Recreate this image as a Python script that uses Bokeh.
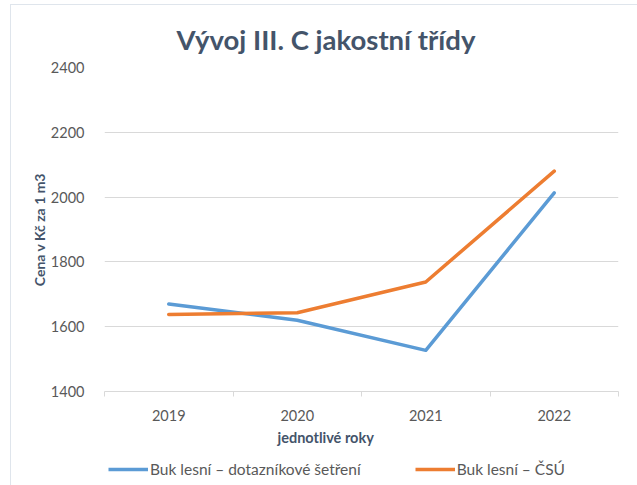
from bokeh.plotting import figure
from bokeh.layouts import column
from bokeh.models import Range1d, FixedTicker, Legend, LegendItem, Title
from bokeh.embed import file_html
from bokeh.resources import INLINE

years = [2019, 2020, 2021, 2022]
survey = [1670, 1620, 1527, 2013]
csu = [1638, 1643, 1738, 2080]
y_ticks = [1400, 1600, 1800, 2000, 2200, 2400]

title_text = "Vývoj III. C jakostní třídy"
y_label = "Cena v Kč za 1 m3"
x_label = "jednotlivé roky"
series_names = ["Buk lesní – dotazníkové šetření", "Buk lesní – ČSÚ"]
colors = ["#5b9bd5", "#ed7d31"]

FONT = "Lato"
GRID = "#d9d9d9"
TXT = "#595959"
DARK = "#44546a"
EDGE = "#dfe5ec"

p = figure(width=626, height=448, output_backend="svg", toolbar_location=None,
           x_range=Range1d(years[0] - 0.5, years[-1] + 0.5),
           y_range=Range1d(y_ticks[0], y_ticks[-1]),
           min_border_left=93, min_border_right=19, min_border_top=62, min_border_bottom=62)
p.outline_line_color = None
p.background_fill_color = "white"
p.border_fill_color = "white"

t = Title(text=title_text, align="left", offset=72, standoff=23,
          text_font=FONT, text_font_size="27.5px", text_font_style="bold", text_color=DARK)
p.add_layout(t, "above")

# axes
p.yaxis.ticker = FixedTicker(ticks=y_ticks)
p.yaxis.axis_line_color = None
p.yaxis.major_tick_line_color = None
p.yaxis.minor_tick_line_color = None
p.yaxis.major_label_standoff = 14
p.yaxis.major_label_text_font = FONT
p.yaxis.major_label_text_font_size = "14.5px"
p.yaxis.major_label_text_color = TXT
p.yaxis.axis_label = y_label
p.yaxis.axis_label_text_font = FONT
p.yaxis.axis_label_text_font_size = "14px"
p.yaxis.axis_label_text_font_style = "bold"
p.yaxis.axis_label_text_color = DARK
p.yaxis.axis_label_standoff = 0

bounds = [y - 0.5 for y in years] + [years[-1] + 0.5]
p.xaxis.ticker = FixedTicker(ticks=years, minor_ticks=bounds)
p.xaxis.axis_line_color = GRID
p.xaxis.major_tick_line_color = None
p.xaxis.major_tick_out = 0
p.xaxis.minor_tick_line_color = GRID
p.xaxis.minor_tick_out = 5
p.xaxis.minor_tick_in = 0
p.xaxis.major_label_standoff = 13
p.xaxis.major_label_text_font = FONT
p.xaxis.major_label_text_font_size = "14.5px"
p.xaxis.major_label_text_color = TXT

xt = Title(text=x_label, align="left", offset=173, standoff=6,
           text_font=FONT, text_font_size="14.5px", text_font_style="bold", text_color=DARK)
p.add_layout(xt, "below")

p.xgrid.grid_line_color = None
p.ygrid.ticker = FixedTicker(ticks=y_ticks)
p.ygrid.grid_line_color = GRID
p.ygrid.grid_line_width = 1

p.line(years, survey, line_color=colors[0], line_width=3.5, line_cap="round", line_join="round")
p.line(years, csu, line_color=colors[1], line_width=3.5, line_cap="round", line_join="round")

# legend strip below the chart (its frame is aligned with the chart's frame)
lg = figure(width=626, height=32, output_backend="svg", toolbar_location=None,
            x_range=Range1d(0, 1), y_range=Range1d(0, 1),
            min_border_left=93, min_border_right=19, min_border_top=0, min_border_bottom=0)
lg.axis.visible = False
lg.grid.visible = False
lg.outline_line_color = None
lg.background_fill_color = "white"
lg.border_fill_color = "white"
# key renderers: same series, outside the strip's visible range, only used for the legend samples
k1 = lg.line(years, survey, line_color=colors[0], line_width=3.5)
k2 = lg.line(years, csu, line_color=colors[1], line_width=3.5)
legend = Legend(items=[LegendItem(label=series_names[0], renderers=[k1]),
                       LegendItem(label=series_names[1], renderers=[k2])],
                orientation="horizontal", location=(4, 6),
                border_line_color=None, background_fill_alpha=0,
                padding=0, margin=0, spacing=54, label_standoff=2,
                glyph_width=40, glyph_height=20, label_height=20,
                label_text_font=FONT, label_text_font_size="15.5px", label_text_color=TXT)
lg.add_layout(legend, "center")

layout = column(p, lg, spacing=0, margin=(4, 0, 0, 10))
layout.styles = {"border-top": "1px solid " + EDGE, "border-left": "1px solid " + EDGE}
open("out.html", "w").write(file_html(layout, INLINE))
